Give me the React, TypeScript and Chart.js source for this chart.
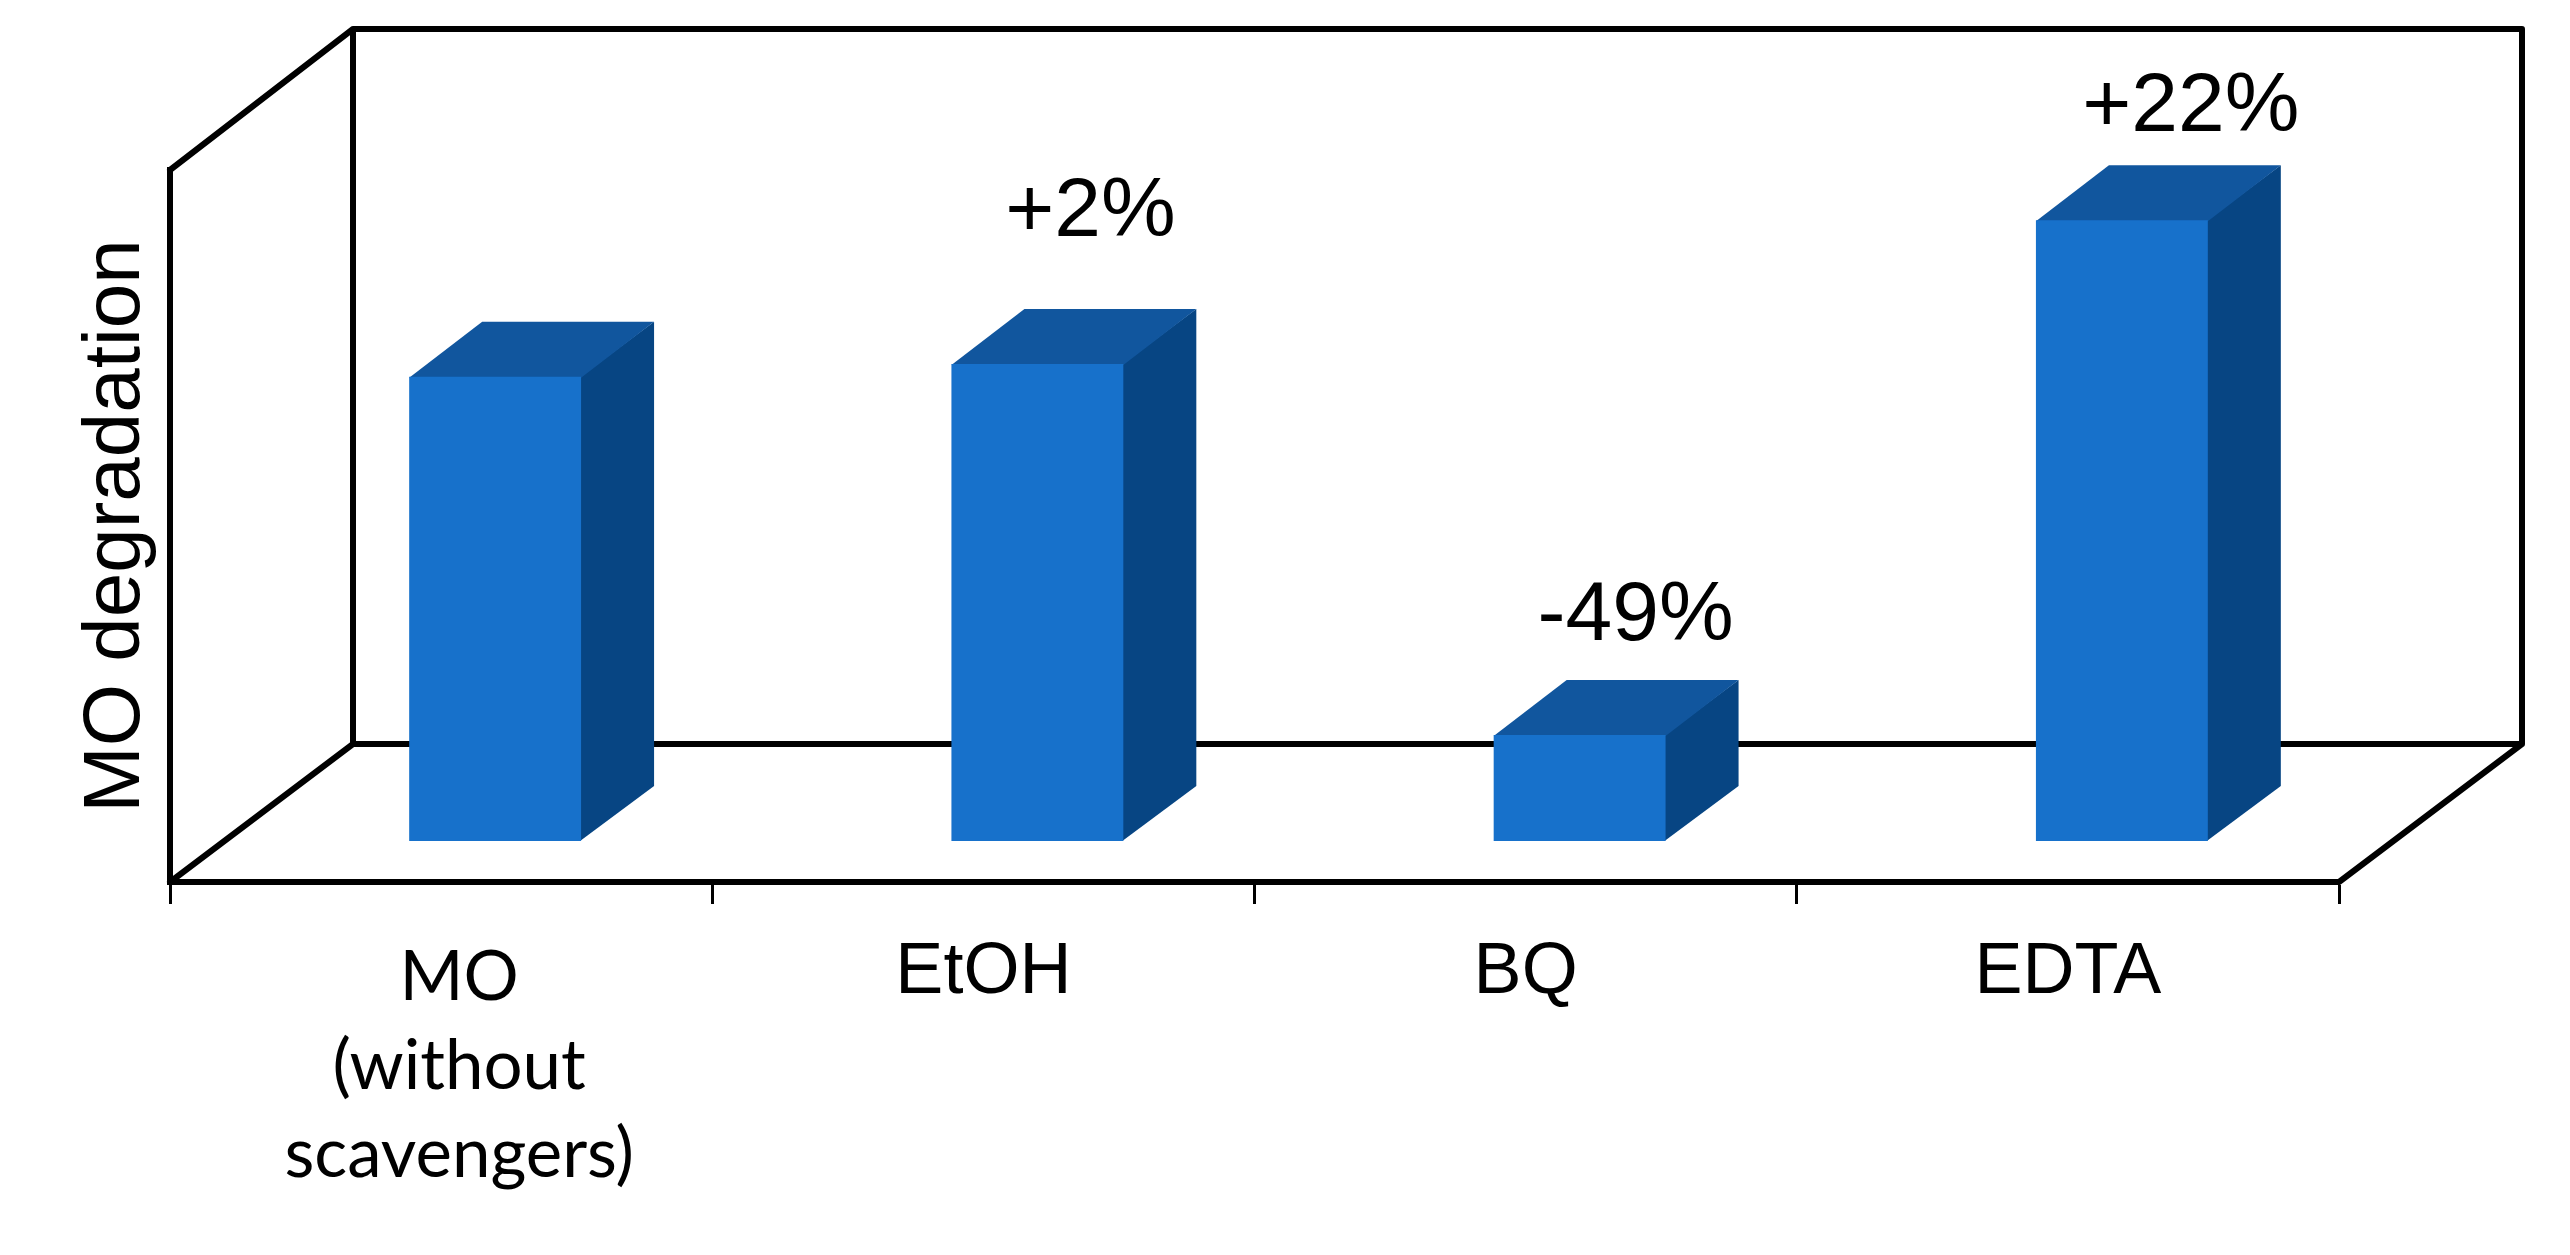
import React, { useEffect, useRef } from "react";
import { Chart, registerables } from "chart.js";

Chart.register(...registerables);

const categories: (string | string[])[] = [["MO", "(without", "scavengers)"], "EtOH", "BQ", "EDTA"];
const degradation = [65.2, 67.0, 14.9, 87.2];
const changeLabels = ["", "+2%", "-49%", "+22%"];
const yTitle = "MO degradation";

const W = 2570;
const H = 1255;
const WALL_DX = 183;
const WALL_DY = 141;
const BACK_FLOOR_DY = 138;
const FLOOR_DX = 54;
const FLOOR_DY = 41;
const BAR_DX = 73;
const BAR_DY = 55;
const LABEL_NUDGE = [
  [0, 0],
  [53, -151],
  [56, -118],
  [69, -112],
];
const FRONT = "#1771CB";
const TOP = "#11569E";
const SIDE = "#074583";
const ARIAL = "'Liberation Sans', Arial, sans-serif";

const box3d = {
  id: "box3d",
  beforeDraw(chart: any) {
    const items = chart.scales.x.getLabelItems();
    if (!chart.$nudged) {
      items[0].options.translation[0] += 18;
      items[0].options.translation[1] += 4;
      chart.$nudged = true;
    }
  },
  beforeDatasetsDraw(chart: any) {
    const { ctx } = chart;
    const { left, right, top, bottom } = chart.chartArea;
    ctx.save();
    ctx.strokeStyle = "#000";
    ctx.lineWidth = 6;
    ctx.lineJoin = "round";
    ctx.lineCap = "round";
    ctx.beginPath();
    ctx.moveTo(left, top);
    ctx.lineTo(left + WALL_DX, top - WALL_DY);
    ctx.lineTo(right + WALL_DX, top - WALL_DY);
    ctx.lineTo(right + WALL_DX, bottom - BACK_FLOOR_DY);
    ctx.lineTo(right, bottom);
    ctx.moveTo(left + WALL_DX, top - WALL_DY);
    ctx.lineTo(left + WALL_DX, bottom - BACK_FLOOR_DY);
    ctx.lineTo(left, bottom);
    ctx.moveTo(left + WALL_DX, bottom - BACK_FLOOR_DY);
    ctx.lineTo(right + WALL_DX, bottom - BACK_FLOOR_DY);
    ctx.stroke();
    ctx.restore();
  },
  beforeDatasetDraw(chart: any) {
    const { ctx } = chart;
    const meta = chart.getDatasetMeta(0);
    ctx.save();
    ctx.translate(FLOOR_DX, -FLOOR_DY);
    meta.data.forEach((bar: any) => {
      const l = bar.x - bar.width / 2;
      const r = bar.x + bar.width / 2;
      ctx.fillStyle = SIDE;
      ctx.beginPath();
      ctx.moveTo(r - 1, bar.y);
      ctx.lineTo(r + BAR_DX, bar.y - BAR_DY);
      ctx.lineTo(r + BAR_DX, bar.base - BAR_DY);
      ctx.lineTo(r - 1, bar.base);
      ctx.closePath();
      ctx.fill();
      ctx.fillStyle = TOP;
      ctx.beginPath();
      ctx.moveTo(l, bar.y + 1);
      ctx.lineTo(l + BAR_DX, bar.y - BAR_DY);
      ctx.lineTo(r + BAR_DX, bar.y - BAR_DY);
      ctx.lineTo(r, bar.y + 1);
      ctx.closePath();
      ctx.fill();
    });
  },
  afterDatasetDraw(chart: any) {
    chart.ctx.restore();
  },
  afterDatasetsDraw(chart: any) {
    const { ctx } = chart;
    const meta = chart.getDatasetMeta(0);
    ctx.save();
    ctx.fillStyle = "#000";
    ctx.font = `84px ${ARIAL}`;
    ctx.textAlign = "center";
    ctx.textBaseline = "middle";
    meta.data.forEach((bar: any, i: number) => {
      if (!changeLabels[i]) return;
      ctx.fillText(
        changeLabels[i],
        bar.x + FLOOR_DX + LABEL_NUDGE[i][0],
        bar.y - FLOOR_DY + LABEL_NUDGE[i][1]
      );
    });
    ctx.restore();
  },
};

export default function App() {
  const ref = useRef<HTMLCanvasElement>(null);
  useEffect(() => {
    if (!ref.current) return;
    const chart = new Chart(ref.current, {
      type: "bar",
      data: {
        labels: categories as any,
        datasets: [
          {
            data: degradation,
            backgroundColor: FRONT,
            borderWidth: 0,
            categoryPercentage: 1,
            barPercentage: 0.317,
          },
        ],
      },
      options: {
        responsive: false,
        animation: false,
        layout: { padding: { top: 170, right: 231, left: 0, bottom: 0 } },
        plugins: { legend: { display: false }, tooltip: { enabled: false }, title: { display: false } },
        scales: {
          x: {
            offset: true,
            border: { display: true, color: "#000", width: 6 },
            grid: {
              offset: true,
              drawOnChartArea: false,
              drawTicks: true,
              tickLength: 22,
              tickWidth: 3,
              tickColor: "#000",
            },
            ticks: {
              color: "#000",
              padding: 26,
              autoSkip: false,
              maxRotation: 0,
              minRotation: 0,
              font: (c: any) =>
                c.index === 0
                  ? { family: "Lato, sans-serif", size: 69, lineHeight: 1.28 }
                  : { family: ARIAL, size: 72, lineHeight: 1.2 },
            },
            afterFit(s: any) {
              s.height = H - 882;
            },
          },
          y: {
            min: 0,
            max: 100,
            border: { display: true, color: "#000", width: 6 },
            grid: { display: false },
            ticks: { display: false },
            title: {
              display: true,
              text: yTitle,
              color: "#000",
              font: { family: ARIAL, size: 80, lineHeight: 1 },
              padding: { top: 77, bottom: 0 },
            },
            afterFit(s: any) {
              s.width = 170;
            },
          },
        },
      },
      plugins: [box3d],
    });
    return () => chart.destroy();
  }, []);
  return (
    <div style={{ position: "absolute", left: 0, top: 0, width: W, height: H, background: "#fff" }}>
      <canvas ref={ref} width={W} height={H} style={{ display: "block" }} />
    </div>
  );
}
